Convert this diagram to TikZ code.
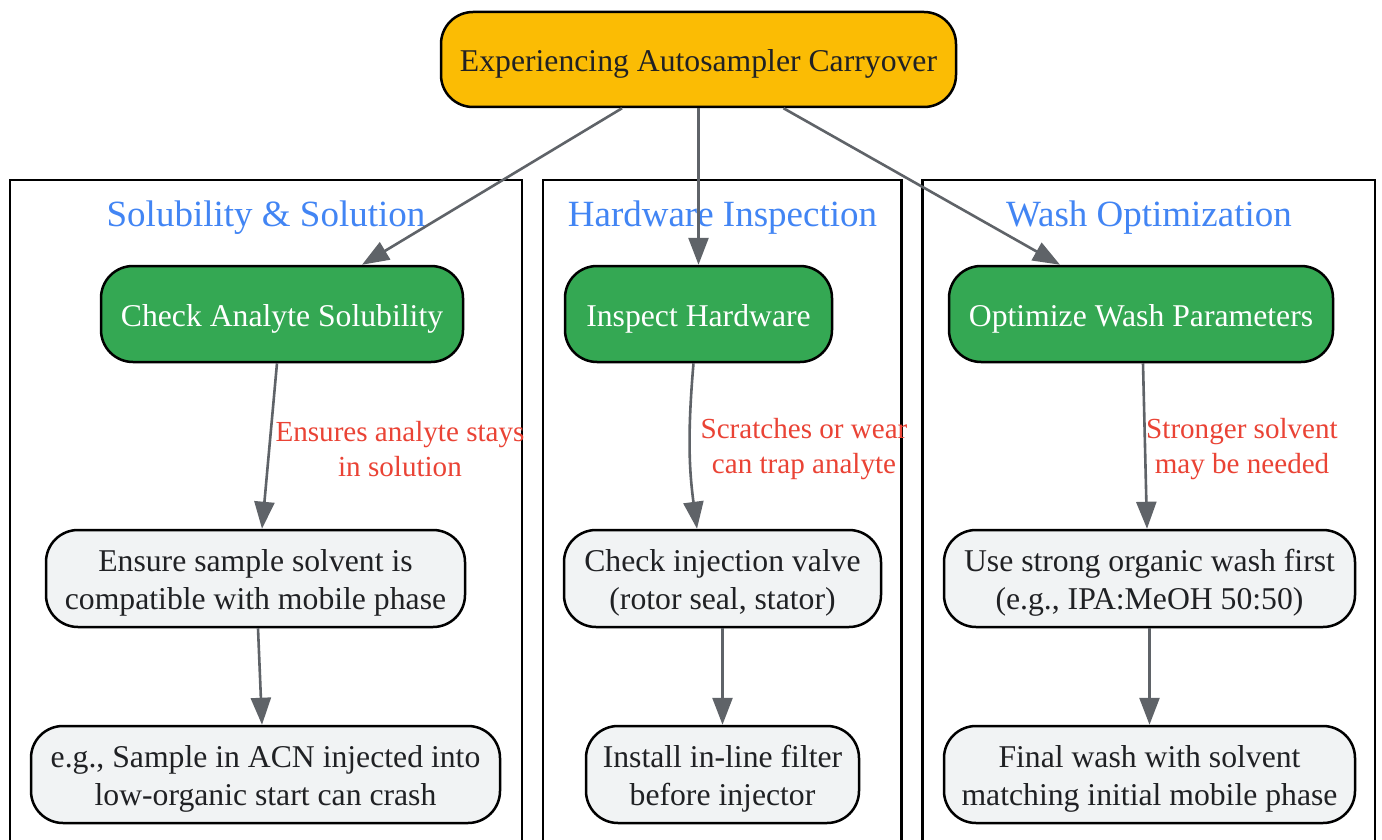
\documentclass[tikz,border=0pt]{standalone}
\usepackage{fontspec}
\setmainfont{Liberation Serif}
\usetikzlibrary{arrows.meta,calc}
\definecolor{gyellow}{HTML}{FBBC04}
\definecolor{ggreen}{HTML}{34A853}
\definecolor{glight}{HTML}{F1F3F4}
\definecolor{gtext}{HTML}{202124}
\definecolor{gedge}{HTML}{5F6368}
\definecolor{gred}{HTML}{EA4335}
\definecolor{gblue}{HTML}{4285F4}
\begin{document}
\begin{tikzpicture}[x=1pt,y=-1pt,
 box/.style={draw=black,line width=2.5pt,rounded corners=32pt,inner sep=0pt},
 btxt/.style={inner sep=0pt,align=center,yshift=-4.5pt,font=\fontsize{31.7}{38}\selectfont},
 darktxt/.style={btxt,text=gtext},
 whitetxt/.style={btxt,text=white},
 topbox/.style={box,fill=gyellow},
 greenbox/.style={box,fill=ggreen},
 greybox/.style={box,fill=glight},
 cluster/.style={draw=black,line width=2.5pt},
 clabel/.style={text=gblue,font=\fontsize{37}{44}\selectfont,inner sep=0pt},
 elabel/.style={text=gred,font=\fontsize{29.1}{35}\selectfont,align=center,inner sep=0pt},
 edge/.style={draw=gedge,line width=2.6pt,-{Triangle[length=27pt,width=20pt]}},
]
\useasboundingbox (0,0) rectangle (1382,840);
\fill[white] (0,0) rectangle (1382,840);
% clusters
\draw[cluster] (10,860) -- (10,180) -- (522,180) -- (522,860);
\draw[cluster] (543,860) -- (543,180) -- (901.5,180) -- (901.5,860);
\draw[cluster] (922.5,860) -- (922.5,180) -- (1375,180) -- (1375,860);
\node[clabel] (c1) at (266,218) {Solubility \& Solution};
\node[clabel] (c2) at (722.5,218) {Hardware Inspection};
\node[clabel] (c3) at (1149,218) {Wash Optimization};
% nodes
\node[topbox,minimum width=515pt,minimum height=95pt,label={[darktxt]center:{Experiencing Autosampler Carryover}}] (top) at (698.5,59.5) {};
\node[greenbox,minimum width=362pt,minimum height=96pt,label={[whitetxt]center:{Check Analyte Solubility}}] (cas) at (282,314) {};
\node[greenbox,minimum width=267pt,minimum height=96pt,label={[whitetxt]center:{Inspect Hardware}}] (ih) at (698.5,314) {};
\node[greenbox,minimum width=384pt,minimum height=96pt,label={[whitetxt]center:{Optimize Wash Parameters}}] (owp) at (1141,314) {};
\node[greybox,minimum width=419pt,minimum height=97pt,label={[darktxt]center:{Ensure sample solvent is\\compatible with mobile phase}}] (ess) at (255.5,578.5) {};
\node[greybox,minimum width=469pt,minimum height=97pt,label={[darktxt]center:{e.g., Sample in ACN injected into\\low-organic start can crash}}] (eg) at (265.5,774.5) {};
\node[greybox,minimum width=317pt,minimum height=97pt,label={[darktxt]center:{Check injection valve\\(rotor seal, stator)}}] (civ) at (722.5,578.5) {};
\node[greybox,minimum width=273pt,minimum height=97pt,label={[darktxt]center:{Install in-line filter\\before injector}}] (ilf) at (722.5,774.5) {};
\node[greybox,minimum width=411pt,minimum height=97pt,label={[darktxt]center:{Use strong organic wash first\\(e.g., IPA:MeOH 50:50)}}] (uso) at (1149.5,578.5) {};
\node[greybox,minimum width=411pt,minimum height=97pt,label={[darktxt]center:{Final wash with solvent\\matching initial mobile phase}}] (fw) at (1149.5,774.5) {};
% edges
\draw[edge] ($(top.south)+(-76.5,0)$) -- ($(cas.north)+(80,0)$);
\draw[edge] (top.south) -- (ih.north);
\draw[edge] ($(top.south)+(85,0)$) -- ($(owp.north)+(-81,0)$);
\draw[edge] ($(cas.south)+(-5,0)$) -- ($(ess.north)+(6.5,0)$);
\draw[edge] ($(ih.south)+(-5,0)$) .. controls +(-6,70) and +(-8,-60) .. ($(civ.north)+(-25.5,0)$);
\draw[edge] ($(owp.south)+(2,0)$) -- ($(uso.north)+(-2.5,0)$);
\draw[edge] ($(ess.south)+(2.5,0)$) -- ($(eg.north)+(-3.5,0)$);
\draw[edge] (civ) -- (ilf);
\draw[edge] (uso) -- (fw);
% edge labels
\node[elabel] (l1) at (400,449) {Ensures analyte stays\\in solution};
\node[elabel] (l2) at (804,449) {Scratches or wear\\can trap analyte};
\node[elabel] (l3) at (1242,449) {Stronger solvent\\may be needed};
\end{tikzpicture}
\end{document}
